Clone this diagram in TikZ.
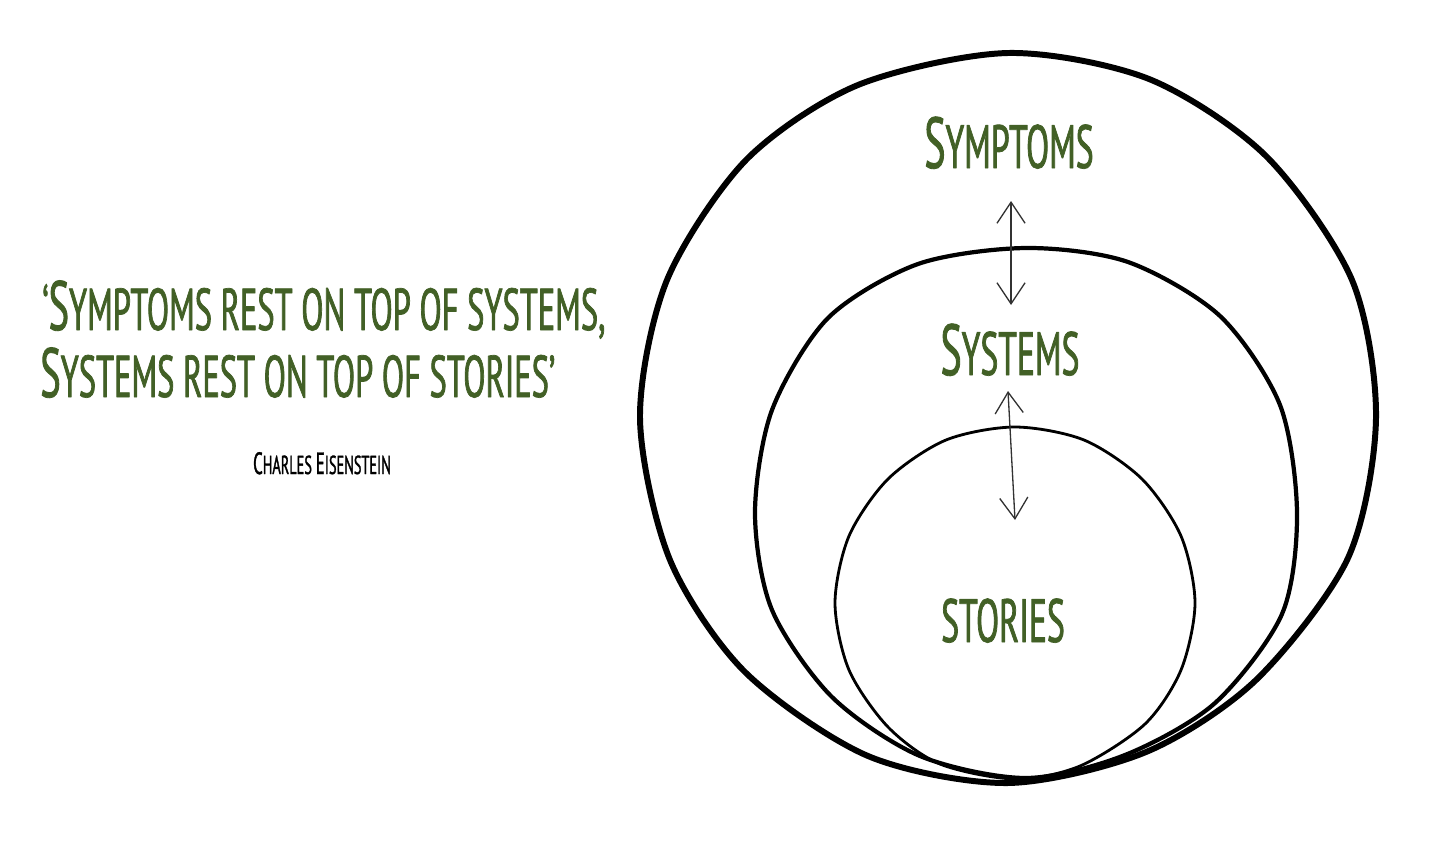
\documentclass[tikz,border=0pt]{standalone}
\usepackage{fontspec}
\usetikzlibrary{arrows.meta}
\newfontfamily\handfont[FakeStretch=0.55,FakeBold=1.2]{PT Sans}
\definecolor{leafgreen}{RGB}{66,96,38}
\definecolor{arrowgray}{RGB}{50,50,50}
\newcommand\hcap[1]{\scalebox{1.18}{#1}}
\begin{document}
\begin{tikzpicture}[x=0.02cm,y=-0.02cm,line cap=round,line join=round,
  ring/.style={draw=black,line width=#1},
  layer label/.style={anchor=base,inner sep=0pt,text=leafgreen,
    font=\handfont\fontsize{34.8}{40}\selectfont},
  quote line/.style={anchor=base west,inner sep=0pt,text=leafgreen,
    font=\handfont\fontsize{33.6}{38}\selectfont},
  updown/.style={draw=arrowgray,line width=0.75pt,
    {Straight Barb[length=12pt,width=16pt]}-{Straight Barb[length=12pt,width=16pt]}}]
  \useasboundingbox (0,0) rectangle (1450,842);
  % outer ring: symptoms
  \draw[ring=3.4pt] plot[smooth cycle] coordinates {
    (1008,53) (1149,79) (1266,156) (1352,280) (1376,418) (1348,558)
    (1256,680) (1146,752) (1008,783) (868,756) (745,672) (670,560)
    (640,418) (667,280) (746,160) (858,85)};
  % middle ring: systems
  \draw[ring=2.4pt] plot[smooth cycle] coordinates {
    (1026,248) (1128,262) (1220,316) (1280,405) (1297,513) (1282,614)
    (1215,703) (1125,755) (1026,778) (920,756) (832,697) (772,610)
    (755,513) (772,410) (828,318) (918,264)};
  % inner ring: stories
  \draw[ring=1.6pt] plot[smooth cycle] coordinates {
    (1015,427) (1084,440) (1142,479) (1181,536) (1195,603) (1181,670)
    (1145,724) (1080,766) (1015,779) (940,764) (888,727) (849,670)
    (835,603) (849,536) (888,479) (946,440)};
  % labels
  \node[layer label] (symptoms) at (1009,168) {\hcap{S}YMPTOMS};
  \node[layer label] (systems) at (1010,375) {\hcap{S}YSTEMS};
  \node[layer label] (stories) at (1003,642) {STORIES};
  \coordinate (up1) at (1011,201);
  \coordinate (down1) at (1011,305);
  \coordinate (up2) at (1008,391);
  \coordinate (down2) at (1015,520);
  \draw[updown] (up1) -- (down1);
  \draw[updown] (up2) -- (down2);
  % quote
  \node[quote line] (quote1) at (42,330) {‘\hcap{S}YMPTOMS REST ON TOP OF SYSTEMS,};
  \node[quote line] (quote2) at (40,397) {\hcap{S}YSTEMS REST ON TOP OF STORIES’};
  \node[anchor=base,inner sep=0pt,font=\handfont\fontsize{14.8}{17}\selectfont]
    (author) at (322,474) {\hcap{C}HARLES \hcap{E}ISENSTEIN};
\end{tikzpicture}
\end{document}
